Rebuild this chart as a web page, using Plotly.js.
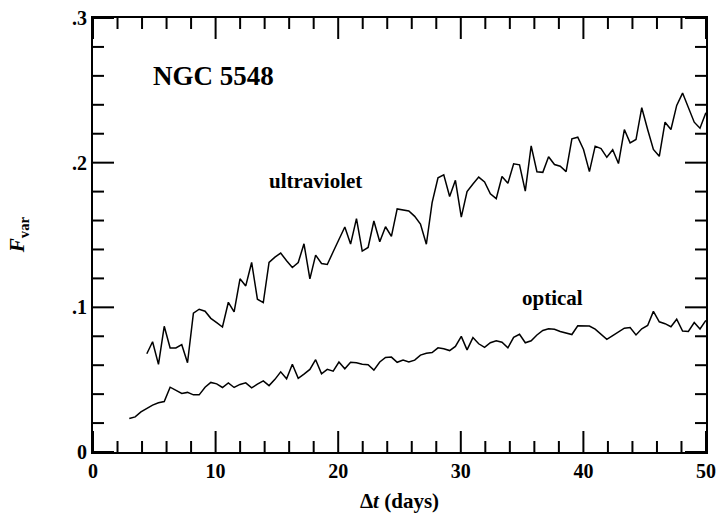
<!DOCTYPE html>
<html>
<head>
<meta charset="utf-8">
<script src="https://cdn.plot.ly/plotly-3.0.1.min.js"></script>
<style>html,body{margin:0;padding:0;background:#fff;}#chart{width:718px;height:515px;}</style>
</head>
<body>
<div id="chart"></div>
<script>
// Time lag grid (days)
var lagDays = [2.96, 3.44, 3.91, 4.39, 4.86, 5.34, 5.81, 6.29, 6.76, 7.24, 7.71, 8.19, 8.66, 9.14, 9.61,
  10.09, 10.56, 11.04, 11.51, 11.99, 12.46, 12.94, 13.41, 13.89, 14.36, 14.84, 15.31, 15.79, 16.26, 16.74,
  17.21, 17.69, 18.16, 18.64, 19.11, 19.59, 20.06, 20.54, 21.01, 21.49, 21.96, 22.44, 22.91, 23.39, 23.86,
  24.34, 24.81, 25.29, 25.76, 26.24, 26.71, 27.19, 27.66, 28.14, 28.61, 29.09, 29.56, 30.04, 30.51, 30.99,
  31.46, 31.94, 32.41, 32.89, 33.36, 33.84, 34.31, 34.79, 35.26, 35.74, 36.21, 36.69, 37.16, 37.64, 38.11,
  38.59, 39.06, 39.54, 40.01, 40.49, 40.96, 41.44, 41.91, 42.39, 42.86, 43.34, 43.81, 44.29, 44.76, 45.24,
  45.71, 46.19, 46.66, 47.14, 47.61, 48.09, 48.56, 49.04, 49.51, 49.99];

// Optical Fvar (starts at first lag)
var opticalFvar = [0.0231, 0.0243, 0.0277, 0.0301, 0.0324, 0.0340, 0.0349, 0.0448, 0.0428, 0.0405,
  0.0412, 0.0395, 0.0395, 0.0448, 0.0481, 0.0471, 0.0446, 0.0478, 0.0446, 0.0467,
  0.0478, 0.0444, 0.0469, 0.0492, 0.0459, 0.0502, 0.0554, 0.0506, 0.0606, 0.0509,
  0.0538, 0.0571, 0.0638, 0.0541, 0.0571, 0.0559, 0.0622, 0.0575, 0.0620, 0.0617,
  0.0606, 0.0603, 0.0566, 0.0622, 0.0654, 0.0656, 0.0620, 0.0635, 0.0622, 0.0635,
  0.0670, 0.0683, 0.0687, 0.0720, 0.0713, 0.0701, 0.0730, 0.0799, 0.0706, 0.0791,
  0.0748, 0.0723, 0.0755, 0.0769, 0.0759, 0.0720, 0.0793, 0.0814, 0.0755, 0.0769,
  0.0809, 0.0840, 0.0852, 0.0849, 0.0833, 0.0823, 0.0812, 0.0873, 0.0871, 0.0871,
  0.0849, 0.0817, 0.0779, 0.0805, 0.0833, 0.0856, 0.0861, 0.0809, 0.0852, 0.0875,
  0.0972, 0.0900, 0.0887, 0.0866, 0.0918, 0.0836, 0.0833, 0.0895, 0.0850, 0.0910];

// Ultraviolet Fvar (starts at fourth lag)
var uvStartIndex = 3;
var ultravioletFvar = [0.0679, 0.0762, 0.0606, 0.0869, 0.0719, 0.0719, 0.0742, 0.0617, 0.0959, 0.0987,
  0.0973, 0.0924, 0.0894, 0.0864, 0.1035, 0.0968, 0.1197, 0.1148, 0.1310, 0.1056,
  0.1033, 0.1310, 0.1347, 0.1375, 0.1322, 0.1275, 0.1310, 0.1439, 0.1197, 0.1361,
  0.1303, 0.1296, 0.1384, 0.1467, 0.1555, 0.1437, 0.1613, 0.1389, 0.1414, 0.1597,
  0.1453, 0.1557, 0.1490, 0.1680, 0.1675, 0.1666, 0.1629, 0.1576, 0.1436, 0.1724,
  0.1895, 0.1916, 0.1766, 0.1878, 0.1624, 0.1800, 0.1853, 0.1900, 0.1867, 0.1785,
  0.1751, 0.1904, 0.1857, 0.1992, 0.1985, 0.1803, 0.2116, 0.1937, 0.1933, 0.2041,
  0.1987, 0.1975, 0.1938, 0.2165, 0.2176, 0.2091, 0.1938, 0.2114, 0.2098, 0.2037,
  0.2089, 0.1994, 0.2229, 0.2137, 0.2160, 0.2380, 0.2229, 0.2091, 0.2044, 0.2280,
  0.2229, 0.2396, 0.2481, 0.2380, 0.2280, 0.2238, 0.2345];

// Tick positions and labels
var xMajorTicks = [0, 10, 20, 30, 40, 50];
var xMinorTicks = [2, 4, 6, 8, 12, 14, 16, 18, 22, 24, 26, 28, 32, 34, 36, 38, 42, 44, 46, 48];
var yMajorTicks = [0, 0.1, 0.2, 0.3];
var yMinorTicks = [0.02, 0.04, 0.06, 0.08, 0.12, 0.14, 0.16, 0.18, 0.22, 0.24, 0.26, 0.28];
var yTickVals = [0.1, 0.2, 0.3];
var yTickText = ['.1', '.2', '.3'];

var serif = 'Liberation Serif, Times New Roman, serif';

var W = 718, H = 515, M = {l: 93, r: 12, t: 18, b: 63};
var X_RANGE = [0, 50], Y_RANGE = [0, 0.3];
var MAJOR_LEN = 21, MINOR_LEN = 11; // px
var xPerPx = (X_RANGE[1] - X_RANGE[0]) / (W - M.l - M.r);
var yPerPx = (Y_RANGE[1] - Y_RANGE[0]) / (H - M.t - M.b);

// Build inward tick segments on all four sides (in axis units, via the axes' own scales)
var tx = [], ty = [];
function addXTicks(vals, len) {
  var d = len * yPerPx;
  vals.forEach(function (v) {
    tx.push(v, v, null, v, v, null);
    ty.push(Y_RANGE[0], Y_RANGE[0] + d, null, Y_RANGE[1], Y_RANGE[1] - d, null);
  });
}
function addYTicks(vals, len) {
  var d = len * xPerPx;
  vals.forEach(function (v) {
    tx.push(X_RANGE[0], X_RANGE[0] + d, null, X_RANGE[1], X_RANGE[1] - d, null);
    ty.push(v, v, null, v, v, null);
  });
}
addXTicks(xMajorTicks, MAJOR_LEN);
addXTicks(xMinorTicks, MINOR_LEN);
addYTicks(yMajorTicks, MAJOR_LEN);
addYTicks(yMinorTicks, MINOR_LEN);

var traces = [
  {x: tx, y: ty, type: 'scatter', mode: 'lines', name: 'ticks', connectgaps: false,
   line: {color: '#000', width: 2}, hoverinfo: 'skip', cliponaxis: false},
  {x: lagDays, y: opticalFvar, type: 'scatter', mode: 'lines', name: 'optical',
   line: {color: '#000', width: 1.5}, hoverinfo: 'skip'},
  {x: lagDays.slice(uvStartIndex), y: ultravioletFvar, type: 'scatter', mode: 'lines', name: 'ultraviolet',
   line: {color: '#000', width: 1.5}, hoverinfo: 'skip'}
];

var yAlias = {};
yTickVals.forEach(function (v, i) { yAlias[String(v)] = yTickText[i]; });

function axisBase() {
  return {
    showgrid: false, zeroline: false, showline: true, linecolor: '#000', linewidth: 2,
    mirror: true, ticks: '', tickmode: 'linear', tick0: 0, fixedrange: true,
    tickfont: {family: serif, size: 20, color: '#000', weight: 'bold'}
  };
}

var layout = {
  width: W, height: H,
  margin: M,
  paper_bgcolor: '#fff', plot_bgcolor: '#fff',
  showlegend: false,
  xaxis: Object.assign(axisBase(), {
    range: X_RANGE, dtick: 10,
    title: {text: 'Δ<i>t</i> (days)', font: {family: serif, size: 21, color: '#000', weight: 'bold'}, standoff: 12}
  }),
  yaxis: Object.assign(axisBase(), {
    range: Y_RANGE, dtick: 0.1, labelalias: yAlias
  }),
  annotations: [
    {x: -0.122, y: 0.5, xref: 'paper', yref: 'paper', text: '<i>F</i><sub>var</sub>', textangle: -90,
     showarrow: false, xanchor: 'center', yanchor: 'middle',
     font: {family: serif, size: 21, color: '#000', weight: 'bold'}},
    {x: 9.86, y: 0.260, xref: 'x', yref: 'y', text: 'NGC 5548', showarrow: false,
     font: {family: serif, size: 27, color: '#000', weight: 'bold'}},
    {x: 18.17, y: 0.1876, xref: 'x', yref: 'y', text: 'ultraviolet', showarrow: false,
     font: {family: serif, size: 21, color: '#000', weight: 'bold'}},
    {x: 37.5, y: 0.1065, xref: 'x', yref: 'y', text: 'optical', showarrow: false,
     font: {family: serif, size: 21, color: '#000', weight: 'bold'}}
  ]
};

Plotly.newPlot('chart', traces, layout, {displayModeBar: false});
</script>
</body>
</html>
